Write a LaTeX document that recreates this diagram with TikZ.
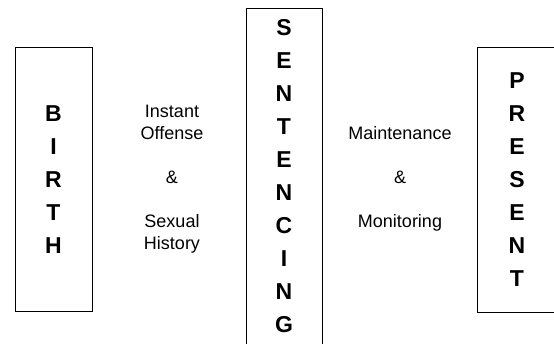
\documentclass[tikz,border=0pt]{standalone}
\usepackage{fontspec}
\setmainfont{Liberation Sans}
\usepackage{tikz}
\tikzset{
  stage/.style={draw=black, line width=0.8pt, minimum width=77pt, inner sep=0pt,
    align=center, font=\fontsize{23}{33}\selectfont\bfseries},
  phase/.style={draw=none, inner sep=0pt, align=center,
    font=\fontsize{18}{22}\selectfont}
}

\begin{document}
\begin{tikzpicture}[x=1pt,y=-1pt]
        \useasboundingbox (0,0) rectangle (554,343);
        % stages
        \node[stage, minimum height=264pt] (birth) at (53.5,179.5) {B\\I\\R\\T\\H};
        \node[stage, minimum width=76pt, minimum height=337pt] (sentencing) at (284,176.5)
             {S\\E\\N\\T\\E\\N\\C\\I\\N\\G};
        \node[stage, minimum width=80pt, minimum height=264.5pt] (present) at (517,179.75)
             {P\\R\\E\\S\\E\\N\\T};

        % between the stages
        \node[phase] (offense) at (172,179) {Instant\\Offense\\[22pt]\&\\[22pt]Sexual\\History};
        \node[phase] (monitoring) at (400,179) {Maintenance\\[22pt]\&\\[22pt]Monitoring};
\end{tikzpicture}
\end{document}
